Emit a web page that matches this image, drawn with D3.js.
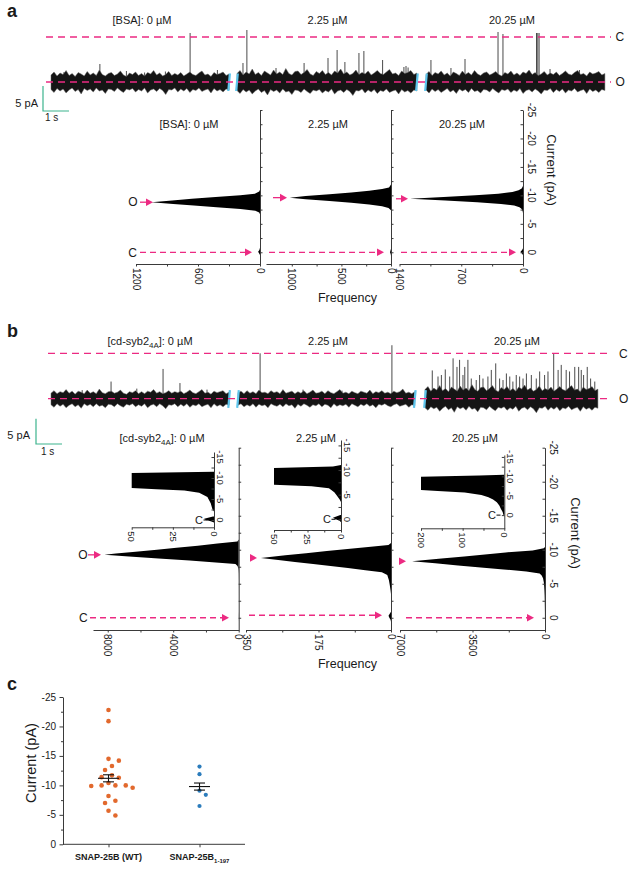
<!DOCTYPE html>
<html><head><meta charset="utf-8">
<script src="https://cdn.jsdelivr.net/npm/d3@7"></script>
<style>
body{margin:0;background:#fff}
svg{display:block}
text{font-family:"Liberation Sans",Arial,Helvetica,sans-serif;fill:#1a1a1a}
</style>
</head><body>
<svg id="fig" width="634" height="870"></svg>
<script>
// ================= DATA =================
const traceTitlesA = ["[BSA]: 0 µM", "2.25 µM", "20.25 µM"];
const traceTitlesB = ["]: 0 µM", "2.25 µM", "20.25 µM"];
const openLevel = -9;      // pA, open state (O)
const closedLevel = 0;     // pA, closed state (C)
const segDurA = [6.85, 6.92, 6.88];   // s
const segDurB = [6.85, 6.8, 6.65];

// noise envelope (pA relative to open level), panel a, three segments
const noiseUpA = [
 [1.4,2.0,1.2,1.8,1.5,2.3,1.3,1.7,1.1,1.9, 1.6,1.2,2.1,1.4,1.8,1.3,2.4,1.5,1.2,1.7, 1.9,1.3,1.6,2.2,1.4,1.1,1.8,1.5,2.0,1.3,
  1.7,1.2,1.9,1.6,2.3,1.4,1.8,1.2,1.5,2.1, 1.3,1.7,1.4,1.9,1.2,1.6,2.0,1.5,1.3,1.8, 2.2,1.4,1.6,1.1,1.9,1.5,1.7,2.0,1.3,1.6],
 [1.7,2.3,1.4,2.0,1.6,2.6,1.5,1.9,1.3,2.2, 1.8,1.4,2.4,1.6,2.0,1.5,2.7,1.7,1.4,2.1, 2.2,1.5,1.9,2.5,1.6,1.3,2.1,1.7,2.3,1.5,
  1.9,1.4,2.2,1.8,2.6,1.6,2.0,1.4,1.7,2.4, 1.5,1.9,1.6,2.2,1.4,1.8,2.3,1.7,1.5,2.0, 2.5,1.6,1.8,1.3,2.2,1.7,1.9,2.3,1.5,1.8],
 [1.5,2.1,1.3,1.9,1.6,2.2,1.4,1.8,1.2,2.0, 1.7,1.3,2.2,1.5,1.9,1.4,2.3,1.6,1.3,1.8, 2.0,1.4,1.7,2.1,1.5,1.2,1.9,1.6,2.2,1.4,
  1.8,1.3,2.0,1.7,2.4,1.5,1.9,1.3,1.6,2.1, 1.4,1.8,1.5,2.0,1.3,1.7,2.2,1.6,1.4,1.9, 2.3,1.5,1.7,1.2,2.0,1.6,1.8,2.1,1.4,1.7]];
const noiseLoA = [
 [-1.5,-2.1,-1.3,-1.8,-1.4,-2.2,-1.6,-1.2,-1.9,-1.5, -2.4,-1.3,-1.7,-1.4,-2.0,-1.2,-1.8,-1.6,-2.3,-1.4, -1.5,-1.9,-1.2,-1.7,-2.1,-1.4,-1.6,-1.3,-2.0,-1.5,
  -1.8,-1.2,-2.2,-1.6,-1.4,-1.9,-1.3,-1.7,-2.5,-1.5, -1.6,-1.2,-2.0,-1.4,-1.8,-1.3,-2.1,-1.5,-1.7,-1.2, -1.9,-1.6,-1.4,-2.2,-1.3,-1.8,-1.5,-2.0,-1.4,-1.6],
 [-1.7,-2.3,-1.5,-2.0,-1.6,-2.4,-1.8,-1.4,-2.1,-1.7, -2.6,-1.5,-1.9,-1.6,-2.2,-1.4,-2.0,-1.8,-2.5,-1.6, -1.7,-2.1,-1.4,-1.9,-2.3,-1.6,-1.8,-1.5,-2.2,-1.7,
  -2.0,-1.4,-2.4,-1.8,-1.6,-2.1,-1.5,-1.9,-2.7,-1.7, -1.8,-1.4,-2.2,-1.6,-2.0,-1.5,-2.3,-1.7,-1.9,-1.4, -2.1,-1.8,-1.6,-2.4,-1.5,-2.0,-1.7,-2.2,-1.6,-1.8],
 [-1.6,-2.2,-1.4,-1.9,-1.5,-2.1,-1.7,-1.3,-2.0,-1.6, -2.3,-1.4,-1.8,-1.5,-2.1,-1.3,-1.9,-1.7,-2.2,-1.5, -1.6,-2.0,-1.3,-1.8,-2.2,-1.5,-1.7,-1.4,-2.1,-1.6,
  -1.9,-1.3,-2.3,-1.7,-1.5,-2.0,-1.4,-1.8,-2.4,-1.6, -1.7,-1.3,-2.1,-1.5,-1.9,-1.4,-2.2,-1.6,-1.8,-1.3, -2.0,-1.7,-1.5,-2.3,-1.4,-1.9,-1.6,-2.1,-1.5,-1.7]];
// spikes: [time s, peak current pA]
const spikesA = [
 [[0.5,-7.0],[1.88,-5.4],[2.9,-6.8],[3.6,-7.1],[4.4,-6.9],[5.35,0.8],[6.4,-6.6]],
 [[0.23,-5.2],[0.38,1.4],[1.5,-6.2],[2.58,-5.2],[3.5,-4.2],[3.85,-2.6],[4.15,-5.0],[4.69,-3.2],[4.88,-2.8],[5.6,-4.6],[6.42,-6.0],[6.5,-5.8],[6.58,-6.1]],
 [[0.19,-4.6],[0.96,-6.2],[1.5,-4.4],[2.77,1.0],[2.96,0.6],[4.25,0.8],[4.3,0.8],[4.35,0.8],[4.77,-6.4],[5.9,-6.6]]];

const noiseUpB = [
 [1.1,1.6,1.0,1.4,1.2,1.8,1.1,1.5,0.9,1.5, 1.3,1.0,1.7,1.1,1.4,1.0,1.9,1.2,1.0,1.4, 1.5,1.1,1.3,1.7,1.1,0.9,1.4,1.2,1.6,1.0,
  1.4,1.0,1.5,1.3,1.8,1.1,1.4,1.0,1.2,1.6, 1.1,1.4,1.2,1.5,1.0,1.3,1.7,1.2,1.0,1.4, 1.8,1.1,1.3,0.9,1.5,1.2,1.4,1.6,1.0,1.3],
 [1.2,1.5,1.0,1.6,1.1,1.4,1.0,1.7,1.2,1.3, 1.0,1.6,1.2,1.4,1.0,1.8,1.1,1.3,1.5,1.0, 1.4,1.1,1.6,1.0,1.3,1.7,1.1,1.2,1.5,1.0,
  1.6,1.2,1.0,1.4,1.8,1.1,1.3,1.0,1.5,1.2, 1.0,1.5,1.3,1.1,1.7,1.0,1.4,1.2,1.6,1.1, 1.3,1.0,1.5,1.2,1.4,1.9,1.1,1.3,1.0,1.4],
 [1.8,2.4,1.5,2.1,1.7,2.6,1.6,2.0,1.4,2.3, 1.9,1.5,2.5,1.7,2.1,1.6,2.8,1.8,1.5,2.2, 2.3,1.6,2.0,2.6,1.7,1.4,2.2,1.8,2.4,1.6,
  2.0,1.5,2.3,1.9,2.7,1.7,2.1,1.5,1.8,2.5, 1.6,2.0,1.7,2.3,1.5,1.9,2.4,1.8,1.6,2.1, 2.6,1.7,1.9,1.4,2.3,1.8,2.0,2.4,1.6,1.9]];
const noiseLoB = [
 [-1.2,-1.7,-1.0,-1.5,-1.1,-1.8,-1.3,-1.0,-1.6,-1.2, -1.9,-1.0,-1.4,-1.1,-1.6,-1.0,-1.5,-1.3,-1.8,-1.1, -1.2,-1.6,-1.0,-1.4,-1.7,-1.1,-1.3,-1.0,-1.6,-1.2,
  -1.5,-1.0,-1.8,-1.3,-1.1,-1.6,-1.0,-1.4,-2.0,-1.2, -1.3,-1.0,-1.6,-1.1,-1.5,-1.0,-1.7,-1.2,-1.4,-1.0, -1.6,-1.3,-1.1,-1.8,-1.0,-1.5,-1.2,-1.6,-1.1,-1.3],
 [-1.3,-1.0,-1.6,-1.2,-1.5,-1.0,-1.7,-1.1,-1.4,-1.2, -1.8,-1.0,-1.3,-1.5,-1.1,-1.6,-1.0,-1.4,-1.2,-1.9, -1.1,-1.5,-1.0,-1.3,-1.7,-1.2,-1.4,-1.0,-1.6,-1.1,
  -1.3,-1.8,-1.0,-1.5,-1.2,-1.4,-1.1,-1.7,-1.0,-1.3, -1.6,-1.1,-1.4,-1.0,-1.5,-1.2,-1.8,-1.1,-1.3,-1.0, -1.4,-1.6,-1.2,-1.0,-1.5,-1.3,-1.1,-1.7,-1.2,-1.4],
 [-1.8,-2.3,-1.6,-2.0,-1.7,-2.5,-1.9,-1.5,-2.2,-1.8, -2.7,-1.6,-2.0,-1.7,-2.3,-1.5,-2.1,-1.9,-2.6,-1.7, -1.8,-2.2,-1.5,-2.0,-2.4,-1.7,-1.9,-1.6,-2.3,-1.8,
  -2.1,-1.5,-2.5,-1.9,-1.7,-2.2,-1.6,-2.0,-2.8,-1.8, -1.9,-1.5,-2.3,-1.7,-2.1,-1.6,-2.4,-1.8,-2.0,-1.5, -2.2,-1.9,-1.7,-2.5,-1.6,-2.1,-1.8,-2.3,-1.7,-1.9]];
const spikesB = [
 [[1.2,-7.3],[2.31,-5.6],[3.3,-7.0],[4.31,-3.1],[4.96,-5.9],[6.0,-7.2]],
 [[0.85,0.0],[2.5,-7.2],[4.0,-7.4],[5.92,1.6]],
 [[0.28,-3.4],[0.5,-4.6],[0.63,-4.3],[0.78,-3.2],[0.95,-4.6],[1.08,-1.0],[1.23,-2.7],[1.33,-1.3],[1.46,-4.3],[1.53,-2.7],
  [1.65,-1.3],[1.78,-5.0],[1.97,-5.3],[2.1,-4.3],[2.23,-5.0],[2.42,-4.6],[2.55,-3.3],[2.72,-2.0],[2.87,-5.0],[3.0,-5.3],
  [3.13,-4.0],[3.26,-4.6],[3.38,-5.6],[3.51,-4.3],[3.64,-4.6],[3.77,-5.0],[3.9,-4.0],[4.09,-4.3],[4.28,-5.0],[4.41,-3.6],
  [4.6,-4.3],[4.73,-3.6],[4.95,0.0],[5.12,-3.3],[5.24,-2.3],[5.43,-3.3],[5.56,-3.6],[5.76,-2.7],[5.91,-2.7],[6.01,-3.3],
  [6.1,-4.3],[6.24,-2.7],[6.37,-5.0],[6.53,-5.6]]];

// all-points histograms: [current pA, count]
const histA1 = [[-11.0,0],[-10.7,8],[-10.3,50],[-10.0,190],[-9.7,430],[-9.4,660],[-9.1,850],[-8.8,1050],[-8.5,840],[-8.2,640],[-7.9,420],[-7.6,190],[-7.3,45],[-7.0,8],[-6.7,0],[-0.8,0],[-0.4,6],[-0.1,18],[0.2,8],[0.5,0]];
const histA2 = [[-11.9,0],[-11.4,20],[-11.1,90],[-10.8,220],[-10.5,400],[-10.2,620],[-9.9,860],[-9.6,1020],[-9.3,860],[-9.0,620],[-8.7,400],[-8.4,220],[-8.1,90],[-7.8,25],[-7.4,0],[-0.6,0],[-0.3,5],[0.0,10],[0.3,3],[0.6,0]];
const histA3 = [[-11.7,0],[-11.5,4],[-11.2,15],[-10.9,50],[-10.6,120],[-10.3,280],[-10.0,540],[-9.7,900],[-9.4,1280],[-9.1,880],[-8.8,520],[-8.5,250],[-8.2,100],[-7.9,40],[-7.6,15],[-7.2,4],[-6.9,0],[-0.7,0],[-0.4,10],[-0.1,28],[0.2,12],[0.5,0]];
const histB1 = [[-11.5,0],[-11.2,80],[-10.9,1300],[-10.6,2500],[-10.3,3800],[-10.0,5000],[-9.7,6300],[-9.45,7500],[-9.25,8200],[-9.0,6700],[-8.7,4900],[-8.4,3000],[-8.1,1200],[-7.9,200],[-7.6,70],[-7.3,35],[-7.0,18],[-6.5,9],[-5.5,4],[-4.0,2],[-2.6,1],[-2.0,0],[-0.9,0],[-0.6,3],[-0.3,6],[0.0,5],[0.3,2],[0.6,0]];
const histB2 = [[-11.0,0],[-10.7,6],[-10.4,55],[-10.1,105],[-9.8,155],[-9.5,205],[-9.2,255],[-8.8,314],[-8.5,272],[-8.2,232],[-7.9,188],[-7.6,146],[-7.3,104],[-7.0,62],[-6.7,22],[-6.3,9],[-5.5,5],[-4.8,3],[-4.0,1],[-3.5,0],[-0.9,0],[-0.6,3],[-0.3,6],[0.0,4],[0.3,1],[0.6,0]];
const histB3 = [[-10.4,0],[-10.2,60],[-9.9,600],[-9.6,1900],[-9.3,2900],[-9.0,3900],[-8.7,5000],[-8.3,6420],[-8.0,5300],[-7.7,4200],[-7.4,3100],[-7.1,2000],[-6.8,900],[-6.5,260],[-6.2,160],[-5.8,95],[-5.2,55],[-4.6,38],[-4.0,27],[-3.3,18],[-2.5,12],[-1.6,8],[-0.8,4],[0.0,2],[0.4,0]];

const histTitlesA = ["[BSA]: 0 µM", "2.25 µM", "20.25 µM"];
const histTitlesB = ["]: 0 µM", "2.25 µM", "20.25 µM"];
const freqMaxA = [1200, 1260, 1400];
const freqTicksA = [[1200,900,600,300,0],[1000,750,500,250,0],[1400,1050,700,350,0]];
const freqLabelsA = [[1200,600,0],[1000,500,0],[1400,700,0]];
const freqMaxB = [8900, 350, 7000];
const freqTicksB = [[8000,6000,4000,2000,0],[350,262.5,175,87.5,0],[7000,5250,3500,1750,0]];
const freqLabelsB = [[8000,4000,0],[350,175,0],[7000,3500,0]];
const insetMax = [50, 50, 200];
const insetTicks = [[50,37.5,25,12.5,0],[50,37.5,25,12.5,0],[200,150,100,50,0]];
const insetLabels = [[50,25,0],[50,25,0],[200,100,0]];
const currentTicks = [-25,-22.5,-20,-17.5,-15,-12.5,-10,-7.5,-5,-2.5,0];
const currentLabels = [-25,-20,-15,-10,-5,0];
const insetCurrentTicks = [-15,-12.5,-10,-7.5,-5,-2.5,0];
const insetCurrentLabels = [-15,-10,-5,0];

// panel c
const groupNames = ["SNAP-25B (WT)", "SNAP-25B"];
const wtCurrent = [-22.8,-20.9,-14.5,-14.2,-13.3,-12.6,-11.3,-11.7,-11.4,-10.0,-10.0,-10.4,-9.9,-10.0,-9.6,-8.2,-7.4,-7.0,-5.7,-4.9];
const truncCurrent = [-13.2,-11.9,-9.1,-8.4,-6.5];
const groupMean = [-11.2, -9.8];
const groupSem = [0.6, 0.6];
const cTicks = [0,-2.5,-5,-7.5,-10,-12.5,-15,-17.5,-20,-22.5,-25];
const cLabels = [0,-5,-10,-15,-20,-25];

// ================= DRAWING =================
const svg = d3.select("#fig");
const PINK = "#ec2a82", CYAN = "#5ec5ec", TEAL = "#3db48e", AX = "#3a3a3a";
const ORANGE = "#e2692d", BLUE = "#2b7cbc";
const PXS = 26; // px per second

function txt(x, y, s, o = {}) {
  return svg.append("text").attr("x", x).attr("y", y)
    .attr("font-size", o.size || 11).attr("text-anchor", o.anchor || "start")
    .attr("font-weight", o.weight || "normal").text(s);
}
function vtxt(x, y, s, anchor, size) {
  return svg.append("text").attr("transform", `translate(${x},${y}) rotate(90)`)
    .attr("text-anchor", anchor).attr("dy", "0.35em").attr("font-size", size).text(s);
}
function subLabel(x, y, pre, sub, post, size, anchor) {
  const t = svg.append("text").attr("x", x).attr("y", y).attr("font-size", size).attr("text-anchor", anchor || "middle");
  t.append("tspan").text(pre);
  t.append("tspan").attr("font-size", size * 0.72).attr("dy", 3).text(sub);
  t.append("tspan").attr("dy", -3).text(post);
  return t;
}
function styleAxis(g) {
  g.selectAll("path,line").attr("stroke", AX).attr("stroke-width", 1);
  g.selectAll("text").remove();
}
function arrow(x1, x2, y, dashed) {
  const g = svg.append("g");
  g.append("line").attr("x1", x1).attr("x2", x2 - 6).attr("y1", y).attr("y2", y)
    .attr("stroke", PINK).attr("stroke-width", 1.3).attr("stroke-dasharray", dashed ? "6,4" : null);
  g.append("path").attr("d", `M${x2 - 7},${y - 3.8}L${x2},${y}L${x2 - 7},${y + 3.8}Z`).attr("fill", PINK);
}

// ---------- traces ----------
function drawTrace(yS, starts, durs, ups, los, spikes, lineX0, lineX1, labX) {
  const ends = [];
  starts.forEach((x0, i) => {
    const xs = d3.scaleLinear().domain([0, durs[i]]).range([x0, x0 + durs[i] * PXS]);
    ends.push(xs(durs[i]));
    const n = ups[i].length;
    const pts = ups[i].map((u, j) => ({ t: j * durs[i] / (n - 1), u, l: los[i][j] }));
    svg.append("g").selectAll("line").data(spikes[i]).join("line")
      .attr("x1", d => xs(d[0])).attr("x2", d => xs(d[0]))
      .attr("y1", yS(openLevel)).attr("y2", d => yS(d[1]))
      .attr("stroke", "#4a4a4a").attr("stroke-width", 1);
    svg.append("path")
      .attr("d", d3.area().x(d => xs(d.t)).y0(d => yS(openLevel + d.l)).y1(d => yS(openLevel + d.u))(pts))
      .attr("fill", "#151515").attr("stroke", "#666").attr("stroke-width", 0.5);
  });
  for (let i = 0; i < starts.length - 1; i++) {
    [ends[i], starts[i + 1]].forEach(x => {
      svg.append("line").attr("x1", x + 0.8).attr("x2", x - 0.8)
        .attr("y1", yS(openLevel + 1.7)).attr("y2", yS(openLevel - 1.8))
        .attr("stroke", CYAN).attr("stroke-width", 2.2);
    });
  }
  [closedLevel, openLevel].forEach(v => {
    svg.append("line").attr("x1", lineX0).attr("x2", lineX1).attr("y1", yS(v)).attr("y2", yS(v))
      .attr("stroke", PINK).attr("stroke-width", 1.3).attr("stroke-dasharray", "7,5");
  });
  txt(labX, yS(closedLevel) + 4.3, "C", { size: 12 });
  txt(labX, yS(openLevel) + 4.3, "O", { size: 12 });
}
function scaleBar(x, yBottom, yS, lx, ly, tx, ty) {
  const h = yS(-5) - yS(0);
  svg.append("path").attr("d", `M${x},${yBottom - h}V${yBottom}H${x + PXS}`)
    .attr("fill", "none").attr("stroke", TEAL).attr("stroke-width", 1.2);
  txt(lx, ly, "5 pA", { size: 11, anchor: "end" });
  txt(tx, ty, "1 s", { size: 10 });
}

// panel a trace
const yTA = d3.scaleLinear().domain([closedLevel, openLevel]).range([37, 82]);
drawTrace(yTA, [51, 237, 426], segDurA, noiseUpA, noiseLoA, spikesA, 46, 611, 615.5);
[142, 327.5, 512].forEach((cx, i) => txt(cx, 24, traceTitlesA[i], { anchor: "middle" }));
scaleBar(43, 111, yTA, 38, 107, 45, 121);

// panel b trace
const yTB = d3.scaleLinear().domain([closedLevel, openLevel]).range([353.3, 398.7]);
drawTrace(yTB, [51, 238, 425], segDurB, noiseUpB, noiseLoB, spikesB, 48, 612, 619);
subLabel(150, 345, "[cd-syb2", "4A", traceTitlesB[0], 11);
txt(328, 345, traceTitlesB[1], { anchor: "middle" });
txt(517, 345, traceTitlesB[2], { anchor: "middle" });
scaleBar(36, 444, yTB, 30, 439, 41, 455);

// ---------- histograms ----------
function histPanel(data, xs, ys, axisX, axisY, ticks, labels, yTicks, yLabels, labelRight, tickSide, sizes) {
  svg.append("path").datum(data)
    .attr("d", d3.area().y(d => ys(d[0])).x0(xs(0)).x1(d => xs(d[1])))
    .attr("fill", "#000");
  const gx = svg.append("g").attr("transform", `translate(0,${axisY})`)
    .call(d3.axisBottom(xs).tickValues(ticks).tickSize(2.5).tickSizeOuter(0));
  styleAxis(gx);
  labels.forEach(v => vtxt(xs(v), axisY + 4, String(v), "start", sizes.x));
  const ax = tickSide === "left" ? d3.axisLeft(ys) : d3.axisRight(ys);
  const gy = svg.append("g").attr("transform", `translate(${axisX},0)`)
    .call(ax.tickValues(yTicks).tickSize(2.5).tickSizeOuter(0));
  styleAxis(gy);
  if (labelRight) yLabels.forEach(v => vtxt(axisX + sizes.off, ys(v), String(v), "middle", sizes.y));
}

// panel a histograms
const yHA = d3.scaleLinear().domain([2.06, -25]).range([264, 110]);
const xHA = [
  d3.scaleLinear().domain([freqMaxA[0], 0]).range([136, 260]),
  d3.scaleLinear().domain([freqMaxA[1], 0]).range([266, 391]),
  d3.scaleLinear().domain([freqMaxA[2], 0]).range([399.5, 523])];
const histsA = [histA1, histA2, histA3];
histsA.forEach((h, i) => {
  histPanel(h, xHA[i], yHA, xHA[i](0), 264, freqTicksA[i], freqLabelsA[i], currentTicks, currentLabels,
    i === 2, i === 2 ? "left" : "right", { x: 10, y: 10, off: 8 });
});
[189, 328, 462].forEach((cx, i) => txt(cx, 128, histTitlesA[i], { anchor: "middle" }));
vtxt(551.5, 170, "Current (pA)", "middle", 13);
txt(347.5, 302, "Frequency", { size: 12.5, anchor: "middle" });
const peak = h => h.reduce((a, b) => (b[1] > a[1] ? b : a))[0];
txt(128.3, yHA(peak(histA1)) + 4.3, "O", { size: 12 });
txt(128.3, yHA(0) + 4.3, "C", { size: 12 });
const oArrA = [[140, 153], [273, 287], [396, 408]];
const cArrA = [[140, 252], [269, 384], [401, 516]];
histsA.forEach((h, i) => {
  arrow(oArrA[i][0], oArrA[i][1], yHA(peak(h)), false);
  arrow(cArrA[i][0], cArrA[i][1], yHA(0), true);
});

// panel b histograms
const yHB = d3.scaleLinear().domain([1.8, -25]).range([630, 447.7]);
const xHB = [
  d3.scaleLinear().domain([freqMaxB[0], 0]).range([93, 238.7]),
  d3.scaleLinear().domain([freqMaxB[1], 0]).range([246, 391]),
  d3.scaleLinear().domain([freqMaxB[2], 0]).range([400, 545])];
const histsB = [histB1, histB2, histB3];
histsB.forEach((h, i) => {
  histPanel(h, xHB[i], yHB, xHB[i](0), 630, freqTicksB[i], freqLabelsB[i], currentTicks, currentLabels,
    i === 2, i === 2 ? "left" : "right", { x: 10, y: 10, off: 8 });
});
subLabel(162, 442, "[cd-syb2", "4A", histTitlesB[0], 11);
txt(316, 442, histTitlesB[1], { anchor: "middle" });
txt(475, 442, histTitlesB[2], { anchor: "middle" });
vtxt(575.7, 533, "Current (pA)", "middle", 13);
txt(347.5, 668, "Frequency", { size: 12.5, anchor: "middle" });
txt(78.3, yHB(peak(histB1)) + 4.3, "O", { size: 12 });
txt(79, yHB(0) + 4.3, "C", { size: 12 });
const oArrB = [[88, 101], [250, 257], [399, 406]];
const cArrB = [[90, 229], [249, 382], [406, 534]];
histsB.forEach((h, i) => {
  arrow(oArrB[i][0], oArrB[i][1], yHB(peak(h)), false);
  arrow(cArrB[i][0], cArrB[i][1], yHB(0) - (i === 1 ? 2.5 : 0), true);
});

// insets (panel b)
const insetX = [[131.7, 214], [274, 341], [421, 504.3]];
const insetAxisY = [527.3, 530, 528.3];
const insetY = [
  d3.scaleLinear().domain([1.74, -16.2]).range([527.3, 452]),
  d3.scaleLinear().domain([2.18, -16.1]).range([530, 440]),
  d3.scaleLinear().domain([3.4, -15.5]).range([528.3, 455])];
const insetCX = [195, 323, 488];
histsB.forEach((h, i) => {
  const xs = d3.scaleLinear().domain([insetMax[i], 0]).range(insetX[i]).clamp(true);
  const ys = insetY[i];
  histPanel(h, xs, ys, insetX[i][1], insetAxisY[i], insetTicks[i], insetLabels[i], insetCurrentTicks, insetCurrentLabels,
    true, "left", { x: 9.5, y: 9.5, off: 6.5 });
  txt(insetCX[i], ys(0) + 4, "C", { size: 11 });
  svg.append("line").attr("x1", insetCX[i] + 8.5).attr("x2", insetCX[i] + 12.5)
    .attr("y1", ys(0)).attr("y2", ys(0)).attr("stroke", "#000").attr("stroke-width", 1);
});

// ---------- panel c ----------
const yC = d3.scaleLinear().domain([0, -25]).range([844.3, 697]);
const xC = d3.scalePoint().domain(groupNames).range([63, 245]).padding(0.5);
const gyC = svg.append("g").attr("transform", "translate(63,0)")
  .call(d3.axisLeft(yC).tickValues(cTicks).tickSize(3).tickSizeOuter(0).tickFormat(""));
gyC.selectAll("path,line").attr("stroke", AX);
gyC.selectAll(".tick line").attr("x2", d => (cLabels.includes(d) ? -3.5 : -2));
cLabels.forEach(v => txt(56, yC(v) + 3.5, String(v), { size: 10, anchor: "end" }));
const gxC = svg.append("g").attr("transform", "translate(0,844.3)")
  .call(d3.axisBottom(xC).tickSize(3).tickSizeOuter(0).tickFormat(""));
gxC.selectAll("path,line").attr("stroke", AX);
gxC.select(".domain").attr("d", "M63,0H245");
txt(xC(groupNames[0]), 860, groupNames[0], { size: 9, anchor: "middle", weight: "bold" });
(function () {
  const t = svg.append("text").attr("x", xC(groupNames[1])).attr("y", 860).attr("font-size", 9)
    .attr("font-weight", "bold").attr("text-anchor", "middle");
  t.append("tspan").text(groupNames[1]);
  t.append("tspan").attr("font-size", 6).attr("dy", 2.5).text("1-197");
})();
svg.append("text").attr("transform", `translate(36,763) rotate(-90)`).attr("text-anchor", "middle")
  .attr("font-size", 14.5).text("Current (pA)");

function swarm(vals, cx, ys, r) {
  const placed = [], out = new Array(vals.length);
  const order = vals.map((v, i) => i).sort((a, b) => vals[a] - vals[b]);
  const cand = [0]; for (let s = 1; s < 20; s++) cand.push(s, -s);
  for (const i of order) {
    const y = ys(vals[i]); let x = cx;
    for (const c of cand) {
      x = cx + c * r * 1.5;
      if (placed.every(p => (p.x - x) ** 2 + (p.y - y) ** 2 >= (2 * r + 2.6) ** 2)) break;
    }
    placed.push({ x, y }); out[i] = { x, y };
  }
  return out;
}
[[wtCurrent, ORANGE, 2.3], [truncCurrent, BLUE, 2.1]].forEach(([vals, col, r], gi) => {
  const cx = xC(groupNames[gi]);
  const pos = swarm(vals, cx, yC, r);
  svg.append("g").selectAll("circle").data(pos).join("circle")
    .attr("cx", d => d.x).attr("cy", d => d.y).attr("r", r).attr("fill", col);
  const m = groupMean[gi], s = groupSem[gi];
  const g = svg.append("g").attr("stroke", "#111").attr("stroke-width", 1.1);
  g.append("line").attr("x1", cx - 10.5).attr("x2", cx + 10.5).attr("y1", yC(m)).attr("y2", yC(m));
  g.append("line").attr("x1", cx - 5.5).attr("x2", cx + 5.5).attr("y1", yC(m - s)).attr("y2", yC(m - s));
  g.append("line").attr("x1", cx - 5.5).attr("x2", cx + 5.5).attr("y1", yC(m + s)).attr("y2", yC(m + s));
  g.append("line").attr("x1", cx).attr("x2", cx).attr("y1", yC(m - s)).attr("y2", yC(m + s));
});

// panel letters
txt(7, 17, "a", { size: 18, weight: "bold" });
txt(7, 337, "b", { size: 18, weight: "bold" });
txt(7, 690, "c", { size: 18, weight: "bold" });
</script>
</body></html>
